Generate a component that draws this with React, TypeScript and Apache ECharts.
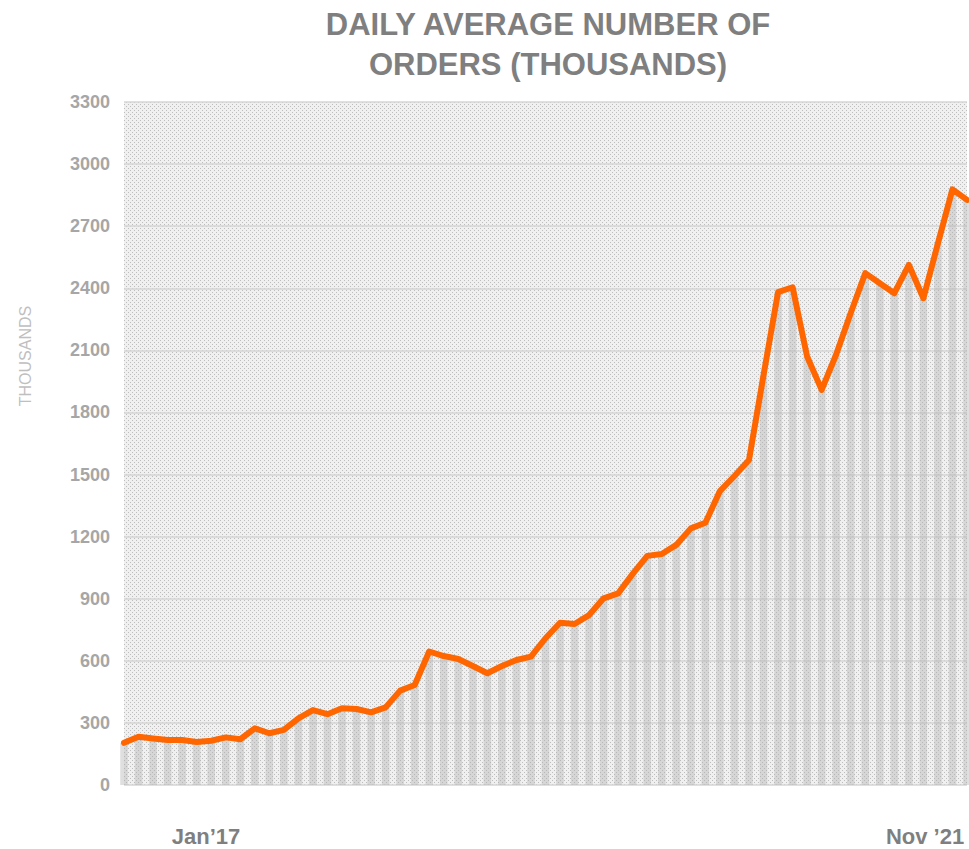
import React, { useEffect, useRef } from "react";
import * as echarts from "echarts";

const TITLE = "DAILY AVERAGE NUMBER OF\nORDERS (THOUSANDS)";
const Y_NAME = "THOUSANDS";
const MONTHS = ["Jan", "Feb", "Mar", "Apr", "May", "Jun", "Jul", "Aug", "Sep", "Oct", "Nov", "Dec"];
const YEARS = ["17", "18", "19", "20", "21"];
const CATEGORIES: string[] = [];
YEARS.forEach((y) => MONTHS.forEach((m) => CATEGORIES.push(`${m}’${y}`)));
CATEGORIES.splice(59);

const ORDERS = [
  204, 233, 225, 217, 217, 208, 214, 230, 221, 274,
  250, 266, 322, 362, 342, 371, 367, 351, 375, 456,
  483, 645, 623, 609, 575, 540, 575, 604, 620, 709,
  784, 778, 821, 902, 926, 1020, 1107, 1116, 1160, 1240,
  1267, 1420, 1493, 1570, 1980, 2381, 2405, 2070, 1909, 2080,
  2280, 2473, 2424, 2376, 2513, 2352, 2617, 2878, 2827,
];
const X_LABELS = ["Jan’17", "Nov ’21"];

function makePattern(bg: string, dot: string) {
  const c = document.createElement("canvas");
  c.width = 4;
  c.height = 4;
  const ctx = c.getContext("2d")!;
  ctx.fillStyle = bg;
  ctx.fillRect(0, 0, 4, 4);
  ctx.fillStyle = dot;
  ctx.fillRect(0, 0, 1, 1);
  ctx.fillRect(2, 2, 1, 1);
  return { image: c, repeat: "repeat" } as any;
}

export default function App() {
  const ref = useRef<HTMLDivElement>(null);
  useEffect(() => {
    const chart = echarts.init(ref.current!, null, { renderer: "svg" });
    chart.setOption({
      animation: false,
      backgroundColor: "#ffffff",
      title: {
        text: TITLE,
        left: 548,
        top: 4,
        padding: 0,
        textAlign: "center",
        textStyle: {
          fontFamily: "Liberation Sans, Arial, sans-serif",
          fontSize: 31,
          fontWeight: "bold",
          color: "#7f7f7f",
          lineHeight: 40,
        },
      },
      grid: {
        left: 124,
        right: 2,
        top: 102,
        bottom: 64,
        show: true,
        borderWidth: 0,
        backgroundColor: makePattern("#f0f0f0", "#bdbdbd"),
      },
      xAxis: {
        type: "category",
        data: CATEGORIES,
        boundaryGap: false,
        axisLine: { show: false },
        axisTick: { show: false },
        axisLabel: { show: false },
        splitLine: { show: false },
      },
      yAxis: {
        type: "value",
        min: 0,
        max: 3300,
        interval: 300,
        axisLine: { show: false },
        axisTick: { show: false },
        axisLabel: {
          margin: 14,
          formatter: (v: number) => String(v),
          fontFamily: "Liberation Sans, Arial, sans-serif",
          fontSize: 18,
          fontWeight: "bold",
          color: "#a6a6a6",
        },
        splitLine: { lineStyle: { color: "#d6d6d6", width: 1.5 } },
      },
      series: [
        {
          type: "bar",
          data: ORDERS,
          barWidth: "52%",
          itemStyle: { color: "rgba(175,175,175,0.4)" },
          silent: true,
          z: 1,
        },
        {
          type: "line",
          data: ORDERS,
          symbol: "none",
          lineStyle: { color: "#ff6600", width: 6, join: "round", cap: "round" },
          z: 3,
        },
      ],
      graphic: [
        {
          type: "text",
          x: 25,
          y: 356,
          rotation: Math.PI / 2,
          style: {
            text: Y_NAME,
            fontFamily: "Liberation Sans, Arial, sans-serif",
            fontSize: 16,
            fill: "#bfbfbf",
            textAlign: "center",
            textVerticalAlign: "middle",
          },
        },
        {
          type: "text",
          x: 206,
          y: 836,
          style: {
            text: X_LABELS[0],
            fontFamily: "Liberation Sans, Arial, sans-serif",
            fontSize: 22,
            fontWeight: "bold",
            fill: "#7f7f7f",
            textAlign: "center",
            textVerticalAlign: "middle",
          },
        },
        {
          type: "text",
          x: 925,
          y: 836,
          style: {
            text: X_LABELS[1],
            fontFamily: "Liberation Sans, Arial, sans-serif",
            fontSize: 22,
            fontWeight: "bold",
            fill: "#7f7f7f",
            textAlign: "center",
            textVerticalAlign: "middle",
          },
        },
      ],
    });
    return () => chart.dispose();
  }, []);
  return (
    <div
      ref={ref}
      style={{ position: "fixed", left: 0, top: 0, width: 969, height: 849 }}
    />
  );
}
